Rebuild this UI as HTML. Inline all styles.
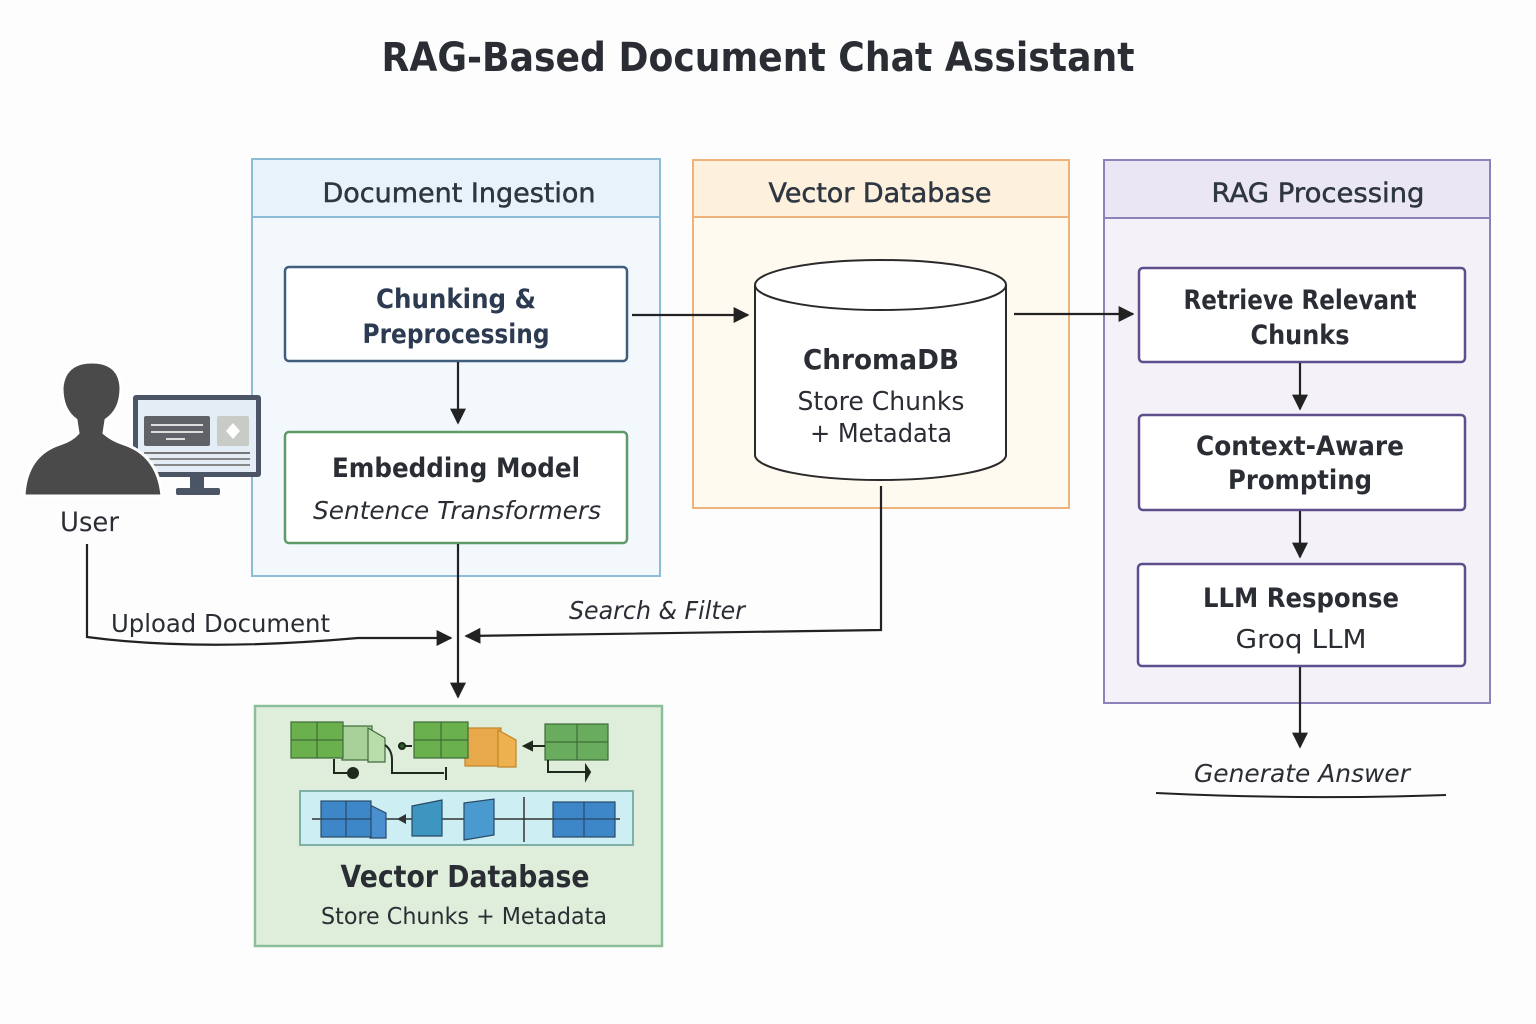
<!DOCTYPE html>
<html><head><meta charset="utf-8"><style>
html,body{margin:0;padding:0;background:#fdfdfd;}
svg{display:block;}
text{font-family:"DejaVu Sans","Liberation Sans",sans-serif;fill:#2a2d33;}
.b{font-weight:bold;}
.hd{fill:#2e3642;stroke:#2e3642;stroke-width:0.5;}
.nv{fill:#2c3b52;}
.i{font-style:italic;}
</style></head><body>
<svg width="1536" height="1024" viewBox="0 0 1536 1024" xmlns="http://www.w3.org/2000/svg">
<defs>
<marker id="a" viewBox="0 0 10 10" refX="9" refY="5" markerWidth="7" markerHeight="7" orient="auto-start-reverse" markerUnits="userSpaceOnUse">
<path d="M0,0 L10,5 L0,10 z" fill="#222"/></marker>
<marker id="m" viewBox="0 0 10 10" refX="9" refY="5" markerWidth="16" markerHeight="16" orient="auto" markerUnits="userSpaceOnUse">
<path d="M0,0 L10,5 L0,10 z" fill="#222"/></marker>
</defs>
<rect width="1536" height="1024" fill="#fdfdfd"/>
<text x="758" y="71" text-anchor="middle" class="b" font-size="40" textLength="753" lengthAdjust="spacingAndGlyphs" fill="#2a2a2a">RAG-Based Document Chat Assistant</text>

<!-- Panel 1 -->
<rect x="252" y="159" width="408" height="417" fill="#f3f8fc" stroke="#8dbdd6" stroke-width="2"/>
<rect x="252" y="159" width="408" height="58" fill="#e8f2fa" stroke="#8dbdd6" stroke-width="2"/>
<text x="459" y="202" text-anchor="middle" class="hd" font-size="27" textLength="273" lengthAdjust="spacingAndGlyphs">Document Ingestion</text>
<!-- Panel 2 -->
<rect x="693" y="160" width="376" height="348" fill="#fffaf0" stroke="#eeb27a" stroke-width="2"/>
<rect x="693" y="160" width="376" height="57" fill="#fdf0dd" stroke="#eeb27a" stroke-width="2"/>
<text x="880" y="202" text-anchor="middle" class="hd" font-size="27" textLength="223" lengthAdjust="spacingAndGlyphs">Vector Database</text>
<!-- Panel 3 -->
<rect x="1104" y="160" width="386" height="543" fill="#f4f1f9" stroke="#8f82bb" stroke-width="2"/>
<rect x="1104" y="160" width="386" height="58" fill="#ebe6f4" stroke="#8f82bb" stroke-width="2"/>
<text x="1318" y="202" text-anchor="middle" class="hd" font-size="27" textLength="213" lengthAdjust="spacingAndGlyphs">RAG Processing</text>

<!-- Chunking box -->
<rect x="285" y="267" width="342" height="94" rx="4" fill="#fff" stroke="#3f5d7c" stroke-width="2.5"/>
<text x="456" y="308" text-anchor="middle" class="b nv" font-size="27" textLength="160" lengthAdjust="spacingAndGlyphs">Chunking &amp;</text>
<text x="456" y="343" text-anchor="middle" class="b nv" font-size="27" textLength="187" lengthAdjust="spacingAndGlyphs">Preprocessing</text>
<!-- Embedding box -->
<rect x="285" y="432" width="342" height="111" rx="4" fill="#fff" stroke="#5c9a66" stroke-width="2.5"/>
<text x="456" y="477" text-anchor="middle" class="b" font-size="27" textLength="248" lengthAdjust="spacingAndGlyphs">Embedding Model</text>
<text x="457" y="519" text-anchor="middle" class="i" font-size="25" textLength="288" lengthAdjust="spacingAndGlyphs">Sentence Transformers</text>

<!-- Cylinder -->
<path d="M755,285 L755,455 A125.5,25 0 0 0 1006,455 L1006,285" fill="#fff" stroke="#2a2a2a" stroke-width="2"/>
<ellipse cx="880.5" cy="285" rx="125.5" ry="25" fill="#fff" stroke="#2a2a2a" stroke-width="2"/>
<text x="881" y="369" text-anchor="middle" class="b" font-size="28" textLength="156" lengthAdjust="spacingAndGlyphs">ChromaDB</text>
<text x="881" y="410" text-anchor="middle" font-size="26" textLength="167" lengthAdjust="spacingAndGlyphs">Store Chunks</text>
<text x="881" y="442" text-anchor="middle" font-size="26" textLength="142" lengthAdjust="spacingAndGlyphs">+ Metadata</text>

<!-- Right boxes -->
<rect x="1139" y="268" width="326" height="94" rx="4" fill="#fff" stroke="#5e4f8c" stroke-width="2.5"/>
<text x="1300" y="309" text-anchor="middle" class="b" font-size="27" textLength="233" lengthAdjust="spacingAndGlyphs">Retrieve Relevant</text>
<text x="1300" y="344" text-anchor="middle" class="b" font-size="27" textLength="99" lengthAdjust="spacingAndGlyphs">Chunks</text>
<rect x="1139" y="415" width="326" height="95" rx="4" fill="#fff" stroke="#5e4f8c" stroke-width="2.5"/>
<text x="1300" y="455" text-anchor="middle" class="b" font-size="27" textLength="208" lengthAdjust="spacingAndGlyphs">Context-Aware</text>
<text x="1300" y="489" text-anchor="middle" class="b" font-size="27" textLength="144" lengthAdjust="spacingAndGlyphs">Prompting</text>
<rect x="1138" y="564" width="327" height="102" rx="4" fill="#fff" stroke="#5e4f8c" stroke-width="2.5"/>
<text x="1301" y="607" text-anchor="middle" class="b" font-size="27" textLength="196" lengthAdjust="spacingAndGlyphs">LLM Response</text>
<text x="1301" y="648" text-anchor="middle" font-size="26" textLength="131" lengthAdjust="spacingAndGlyphs">Groq LLM</text>

<!-- Arrows -->
<g stroke="#222" stroke-width="2.2" fill="none">
<line x1="632" y1="315" x2="748" y2="315" marker-end="url(#m)"/>
<line x1="1014" y1="314" x2="1133" y2="314" marker-end="url(#m)"/>
<line x1="458" y1="362" x2="458" y2="423" marker-end="url(#m)"/>
<line x1="1300" y1="363" x2="1300" y2="409" marker-end="url(#m)"/>
<line x1="1300" y1="511" x2="1300" y2="557" marker-end="url(#m)"/>
<line x1="1300" y1="667" x2="1300" y2="747" marker-end="url(#m)"/>
<line x1="458" y1="544" x2="458" y2="697" marker-end="url(#m)"/>
<path d="M87,544 L87,637 Q200,652 358,638 L451,638" marker-end="url(#m)"/>
<path d="M881,486 L881,630 L466,636" marker-end="url(#m)"/>
<path d="M1156,793 Q1300,800 1446,795" stroke-width="2"/>
</g>
<text x="1302" y="782" text-anchor="middle" class="i" font-size="25" textLength="216" lengthAdjust="spacingAndGlyphs">Generate Answer</text>
<text x="111" y="632" font-size="25" textLength="219" lengthAdjust="spacingAndGlyphs">Upload Document</text>
<text x="569" y="619" class="i" font-size="25" textLength="176" lengthAdjust="spacingAndGlyphs">Search &amp; Filter</text>
<text x="60" y="531" font-size="27" textLength="59" lengthAdjust="spacingAndGlyphs">User</text>

<!-- User icon -->
<g>
<rect x="133" y="395" width="128" height="82" rx="3" fill="#4b5566"/>
<rect x="138" y="400" width="118" height="72" fill="#e4edf5"/>
<rect x="144" y="416" width="66" height="30" rx="2" fill="#5f6266"/>
<line x1="151" y1="425" x2="203" y2="425" stroke="#ddd" stroke-width="2"/>
<line x1="151" y1="432" x2="203" y2="432" stroke="#ddd" stroke-width="2"/>
<line x1="166" y1="439" x2="185" y2="439" stroke="#ddd" stroke-width="2"/>
<rect x="217" y="416" width="32" height="30" rx="2" fill="#c9cbc6"/>
<path d="M233,423 L240,431 L233,439 L226,431z" fill="#fff"/>
<line x1="144" y1="453" x2="250" y2="453" stroke="#777" stroke-width="2"/>
<line x1="144" y1="459" x2="250" y2="459" stroke="#888" stroke-width="2"/>
<line x1="144" y1="465" x2="250" y2="465" stroke="#888" stroke-width="2"/>
<rect x="190" y="477" width="14" height="12" fill="#4b5566"/>
<rect x="176" y="488" width="44" height="7" rx="2" fill="#4b5566"/>
<path d="M24,496 Q26,455 60,444 Q72,440 78,433 L76,420 Q62,410 62,388 Q64,362 92,362 Q120,362 121,388 Q121,410 106,420 L104,433 Q112,440 124,444 Q158,455 162,496 Z" fill="#4a4a4a" stroke="#fff" stroke-width="3"/>
</g>

<!-- Bottom vector DB box -->
<rect x="255" y="706" width="407" height="240" fill="#deeedb" stroke="#8bbf97" stroke-width="2.5"/>
<g stroke="#3e6b3a" stroke-width="1.2">
<rect x="342" y="726" width="30" height="34" fill="#a8d19a"/>
<path d="M368,728 L385,738 L385,762 L368,762Z" fill="#b9dcaa"/>
<rect x="291" y="722" width="52" height="36" fill="#6ab04c"/>
<line x1="317" y1="722" x2="317" y2="758"/><line x1="291" y1="740" x2="343" y2="740"/>
<rect x="465" y="728" width="36" height="38" fill="#e8a94a" stroke="#c0852a"/>
<path d="M498,730 L516,740 L516,767 L498,767Z" fill="#edb24f" stroke="#c0852a"/>
<rect x="414" y="722" width="54" height="36" fill="#6ab04c"/>
<line x1="441" y1="722" x2="441" y2="758"/><line x1="414" y1="740" x2="468" y2="740"/>
<rect x="545" y="724" width="63" height="36" fill="#6aac5e"/>
<line x1="577" y1="724" x2="577" y2="760"/><line x1="545" y1="742" x2="608" y2="742"/>
</g>
<g stroke="#1e2a1e" stroke-width="2" fill="none">
<path d="M334,759 L334,773 L352,773"/><circle cx="353" cy="773" r="5" fill="#1e2a1e"/>
<path d="M385,745 Q392,750 392,760 L392,773 L444,773"/><line x1="446" y1="767" x2="446" y2="780"/>
<path d="M398,746 L412,746"/><circle cx="402" cy="746" r="3" fill="#2d5a2a"/>
<path d="M528,746 L545,746"/><path d="M524,746 L532,742 L532,750z" fill="#1e2a1e"/>
<path d="M548,760 L548,772 L585,772"/><path d="M586,766 L590,772 L586,779z" fill="#1e2a1e"/>
</g>
<rect x="300" y="791" width="333" height="54" fill="#cdeff3" stroke="#7fb0a8" stroke-width="2"/>
<g stroke="#2a4a66" stroke-width="1.2">
<line x1="312" y1="819" x2="620" y2="819" stroke="#333" stroke-width="1.5"/>
<line x1="524" y1="797" x2="524" y2="842" stroke="#333" stroke-width="1.5"/>
<path d="M370,805 L386,813 L386,838 L370,838Z" fill="#4a90d0"/>
<rect x="321" y="801" width="50" height="36" fill="#3d86c8"/>
<line x1="346" y1="801" x2="346" y2="837"/><line x1="321" y1="819" x2="371" y2="819"/>
<path d="M412,806 L442,800 L442,836 L412,836Z" fill="#3d96c0"/>
<path d="M464,803 L494,799 L494,835 L464,840Z" fill="#4a9ad0"/>
<rect x="553" y="802" width="62" height="35" fill="#3d86c8"/>
<line x1="584" y1="802" x2="584" y2="837"/><line x1="553" y1="819" x2="615" y2="819"/>
</g>
<path d="M397,819 L406,814 L406,824z" fill="#333"/>
<text x="465" y="887" text-anchor="middle" class="b" font-size="30" textLength="249" lengthAdjust="spacingAndGlyphs">Vector Database</text>
<text x="464" y="924" text-anchor="middle" font-size="23" textLength="286" lengthAdjust="spacingAndGlyphs">Store Chunks + Metadata</text>
</svg>
</body></html>
